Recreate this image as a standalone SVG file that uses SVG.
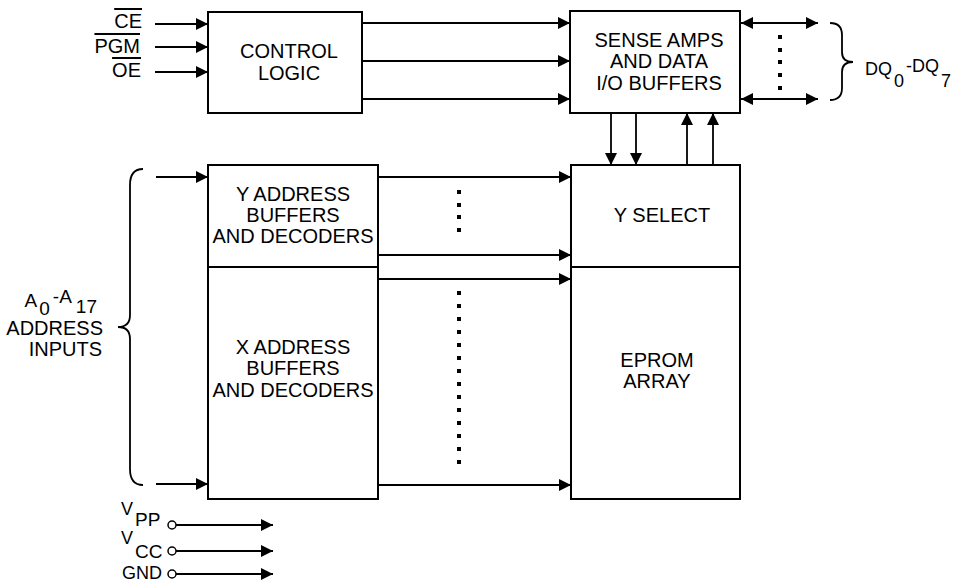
<svg xmlns="http://www.w3.org/2000/svg" width="970" height="582" viewBox="0 0 970 582">
<defs>
<style>
.box{fill:#fff;stroke:#000;stroke-width:2}
.ln{fill:none;stroke:#000;stroke-width:1.8}
.arr{marker-end:url(#ah)}
.bi{marker-end:url(#ah);marker-start:url(#ah)}
.t{font-family:"Liberation Sans",Arial,sans-serif;font-size:20px;fill:#000}
.c{text-anchor:middle}
.e{text-anchor:end}
.s{font-size:18px}
.dot{fill:#000}
.pin{fill:#fff;stroke:#000;stroke-width:1.5}
</style>
<marker id="ah" viewBox="0 0 12 12" refX="12" refY="6" markerWidth="12" markerHeight="12" markerUnits="userSpaceOnUse" orient="auto-start-reverse">
<path d="M0,0 L12,6 L0,12 z" fill="#000"/>
</marker>
</defs>
<rect width="970" height="582" fill="#fff"/>

<g id="control-logic">
<rect class="box" x="208" y="12" width="154" height="101"/>
<text class="t c" x="289" y="58">CONTROL</text>
<text class="t c" x="289" y="80">LOGIC</text>
</g>

<g id="sense-amps">
<rect class="box" x="570" y="11" width="170" height="102"/>
<text class="t c" x="659" y="47">SENSE AMPS</text>
<text class="t c" x="659" y="68">AND DATA</text>
<text class="t c" x="659" y="90">I/O BUFFERS</text>
</g>

<g id="y-address">
<rect class="box" x="208" y="165" width="170" height="102"/>
<text class="t c" x="293" y="201">Y ADDRESS</text>
<text class="t c" x="293" y="222">BUFFERS</text>
<text class="t c" x="293" y="243">AND DECODERS</text>
</g>

<g id="x-address">
<rect class="box" x="208" y="267" width="170" height="232"/>
<text class="t c" x="293" y="354">X ADDRESS</text>
<text class="t c" x="293" y="375">BUFFERS</text>
<text class="t c" x="293" y="397">AND DECODERS</text>
</g>

<g id="y-select">
<rect class="box" x="571" y="165" width="169" height="102"/>
<text class="t c" x="662" y="222">Y SELECT</text>
</g>

<g id="eprom-array">
<rect class="box" x="571" y="267" width="169" height="232"/>
<text class="t c" x="657" y="367">EPROM</text>
<text class="t c" x="657" y="388">ARRAY</text>
</g>

<g id="labels">
<text class="t e" x="142" y="28" text-decoration="overline">CE</text>
<text class="t e" x="140" y="53" text-decoration="overline">PGM</text>
<text class="t e" x="141" y="77" text-decoration="overline">OE</text>
<text class="t s" x="865" y="75">DQ<tspan dx="2" dy="12">0</tspan><tspan dx="2" dy="-15">-DQ</tspan><tspan dx="2" dy="15">7</tspan></text>
<text class="t e" x="97" y="307" style="font-size:19px">A<tspan dx="2" dy="8">0</tspan><tspan dx="3" dy="-12">-A</tspan><tspan dx="4" dy="10">17</tspan></text>
<text class="t e" x="103" y="335">ADDRESS</text>
<text class="t e" x="102" y="356">INPUTS</text>
<text class="t s" x="121" y="515">V<tspan dx="2" dy="11" style="font-size:19px">PP</tspan></text>
<text class="t s" x="121" y="544">V<tspan dx="2" dy="14" style="font-size:19px">CC</tspan></text>
<text class="t" x="122" y="579" style="font-size:18px">GND</text>
</g>

<g id="connectors">
<line class="ln arr" x1="155" y1="24" x2="208" y2="24"/>
<line class="ln arr" x1="155" y1="47" x2="208" y2="47"/>
<line class="ln arr" x1="155" y1="72" x2="208" y2="72"/>
<line class="ln arr" x1="362" y1="23" x2="570" y2="23"/>
<line class="ln arr" x1="362" y1="61" x2="570" y2="61"/>
<line class="ln arr" x1="362" y1="99" x2="570" y2="99"/>
<line class="ln bi" x1="741" y1="23" x2="818" y2="23"/>
<line class="ln bi" x1="741" y1="99" x2="818" y2="99"/>
<line class="ln arr" x1="611" y1="113" x2="611" y2="165"/>
<line class="ln arr" x1="636" y1="113" x2="636" y2="165"/>
<line class="ln arr" x1="687" y1="165" x2="687" y2="113"/>
<line class="ln arr" x1="713" y1="165" x2="713" y2="113"/>
<line class="ln arr" x1="156" y1="177" x2="208" y2="177"/>
<line class="ln arr" x1="156" y1="484" x2="208" y2="484"/>
<line class="ln arr" x1="378" y1="177" x2="571" y2="177"/>
<line class="ln arr" x1="378" y1="255" x2="571" y2="255"/>
<line class="ln arr" x1="378" y1="279" x2="571" y2="279"/>
<line class="ln arr" x1="378" y1="485" x2="571" y2="485"/>
<line class="ln arr" x1="176" y1="525" x2="273" y2="525"/>
<line class="ln arr" x1="176" y1="551" x2="273" y2="551"/>
<line class="ln arr" x1="176" y1="574" x2="273" y2="574"/>
<circle class="pin" cx="172" cy="525" r="4"/>
<circle class="pin" cx="172" cy="551" r="4"/>
<circle class="pin" cx="172" cy="574" r="4"/>
<path class="ln" d="M830,23 Q842,23 842,35 L842,52 Q842,62 853,62 Q842,62 842,72 L842,88 Q842,100 830,100"/>
<path class="ln" d="M143,169 Q130,169 130,185 L130,315 Q130,327 118,327 Q130,327 130,339 L130,469 Q130,485 143,485"/>
<g class="dot">
<rect x="778" y="35" width="4" height="4"/>
<rect x="778" y="48" width="4" height="4"/>
<rect x="778" y="60" width="4" height="4"/>
<rect x="778" y="73" width="4" height="4"/>
<rect x="778" y="86" width="4" height="4"/>
<rect x="457" y="190" width="4" height="4"/>
<rect x="457" y="203" width="4" height="4"/>
<rect x="457" y="215" width="4" height="4"/>
<rect x="457" y="228" width="4" height="4"/>
<rect x="457" y="291" width="4" height="4"/>
<rect x="457" y="304" width="4" height="4"/>
<rect x="457" y="317" width="4" height="4"/>
<rect x="457" y="330" width="4" height="4"/>
<rect x="457" y="343" width="4" height="4"/>
<rect x="457" y="356" width="4" height="4"/>
<rect x="457" y="369" width="4" height="4"/>
<rect x="457" y="382" width="4" height="4"/>
<rect x="457" y="395" width="4" height="4"/>
<rect x="457" y="408" width="4" height="4"/>
<rect x="457" y="421" width="4" height="4"/>
<rect x="457" y="434" width="4" height="4"/>
<rect x="457" y="447" width="4" height="4"/>
<rect x="457" y="460" width="4" height="4"/>
</g>
</g>
</svg>
